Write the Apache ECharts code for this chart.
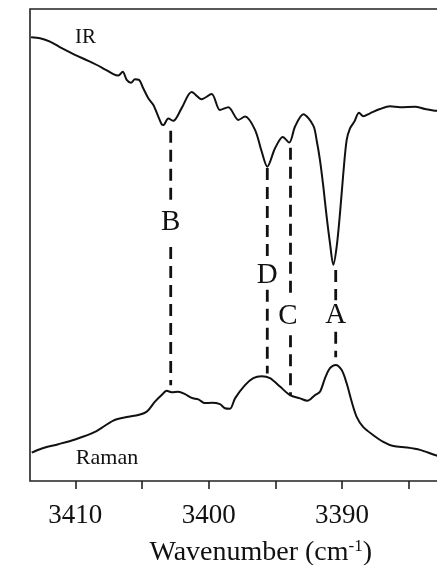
<!DOCTYPE html>
<html>
<head>
<meta charset="utf-8">
<script src="https://cdn.jsdelivr.net/npm/echarts@6/dist/echarts.min.js"></script>
<style>
html,body{margin:0;padding:0;background:#fff;}
#chart{width:437px;height:565px;}
</style>
</head>
<body>
<div id="chart"></div>
<script>
// IR spectrum (wavenumber, relative intensity)
const irWavenumber = [3413.32,3412.65,3411.90,3411.02,3410.03,3409.03,3408.02,3407.15,3406.78,3406.45,3406.15,3405.83,3405.53,3405.23,3404.91,3404.53,3404.16,3403.78,3403.53,3403.41,3403.03,3402.66,3402.03,3401.28,3400.53,3399.78,3399.16,3398.53,3397.78,3397.28,3396.53,3396.03,3395.61,3395.03,3394.45,3393.96,3393.53,3392.91,3392.16,3391.91,3391.66,3391.41,3391.16,3390.91,3390.66,3390.41,3390.16,3389.91,3389.66,3389.41,3389.09,3388.73,3388.41,3387.91,3387.16,3386.41,3385.66,3384.54,3383.79,3383.16,3382.66];
const irIntensity = [94.0,93.8,93.1,91.7,90.3,89.0,87.6,86.2,85.9,86.7,85.0,84.4,85.1,85.0,83.2,81.1,79.7,77.2,75.6,75.4,76.8,76.3,79.0,82.4,80.9,82.0,78.6,79.2,76.5,77.2,74.4,69.8,66.6,70.5,72.9,71.7,75.1,77.7,75.3,72.2,68.0,62.4,56.0,50.4,45.8,49.6,56.7,65.2,72.2,74.7,76.1,78.0,77.3,77.9,78.8,79.4,79.2,79.3,78.8,78.5,78.4];

// Raman spectrum (wavenumber, relative intensity)
const ramanWavenumber = [3413.27,3412.52,3411.28,3410.03,3408.53,3407.15,3406.03,3405.28,3404.65,3404.03,3403.53,3403.15,3402.78,3402.28,3401.78,3401.28,3400.78,3400.28,3399.78,3399.16,3398.78,3398.41,3398.03,3397.28,3396.66,3396.03,3395.41,3394.66,3393.91,3393.16,3392.61,3392.03,3391.66,3391.28,3390.91,3390.48,3390.03,3389.66,3389.28,3388.91,3388.41,3387.66,3386.91,3386.16,3385.16,3384.16,3383.04,3382.66];
const ramanIntensity = [6.0,6.9,7.8,8.8,10.4,12.8,13.6,14.0,14.7,16.8,18.2,19.1,18.8,18.9,18.4,17.6,17.3,16.5,16.6,16.3,15.4,15.3,17.5,20.3,21.8,22.2,21.8,20.0,18.2,17.5,17.0,18.2,18.9,21.8,23.9,24.6,23.5,20.7,16.8,13.6,11.4,9.7,8.3,7.4,7.1,6.6,5.5,5.2];

// Correlated bands
const peakNames = ['B','D','C','A'];
const peakWavenumbers = [3402.85,3395.61,3393.87,3390.48];
const peakIrEnd = [74.2,66.3,70.6,44.7];
const peakGapTop = [59.5,47.5,39.8,38.3];
const peakGapBottom = [49.6,40.5,30.9,31.6];
const peakRamanEnd = [20.3,22.8,18.2,26.2];
const peakLabelWavenumbers = [3402.85,3395.61,3394.06,3390.48];
const peakLabelLevels = [54.7,43.6,34.8,35.1];

// Axis ticks
const tickValues = [3385,3390,3395,3400,3405,3410];
const tickLabelValues = [3390,3400,3410];

const FONT = '"Liberation Serif", "Times New Roman", serif';
const INK = '#111';

const zip = (a, b) => a.map((v, i) => [v, b[i]]);

const series = [
  {
    name: 'IR', type: 'line', data: zip(irWavenumber, irIntensity),
    symbol: 'none', smooth: 0.3, silent: true,
    lineStyle: { color: INK, width: 2 }
  },
  {
    name: 'Raman', type: 'line', data: zip(ramanWavenumber, ramanIntensity),
    symbol: 'none', smooth: 0.3, silent: true,
    lineStyle: { color: INK, width: 2 }
  }
];

peakNames.forEach((n, i) => {
  const w = peakWavenumbers[i];
  series.push({
    name: 'band ' + n, type: 'line', symbol: 'none', silent: true,
    connectNulls: false,
    data: [[w, peakIrEnd[i]], [w, peakGapTop[i]], [w, '-'], [w, peakGapBottom[i]], [w, peakRamanEnd[i]]],
    lineStyle: { color: INK, width: 2.8, type: [12, 7], cap: 'butt' },
    z: 3
  });
});

series.push({
  name: 'labels', type: 'scatter', symbolSize: 0, silent: true,
  itemStyle: { opacity: 1, color: INK },
  data: peakNames.map((n, i) => ({ value: [peakLabelWavenumbers[i], peakLabelLevels[i]], name: n })),
  label: {
    show: true, position: 'inside', formatter: p => p.name,
    fontFamily: FONT, fontSize: 29, color: INK, opacity: 1
  },
  z: 5
});

const chart = echarts.init(document.getElementById('chart'));
chart.setOption({
  animation: false,
  backgroundColor: '#fff',
  grid: {
    left: 30, right: -38.5, top: 9, bottom: 84,
    outerBoundsMode: 'none', containLabel: false,
    show: true, borderColor: '#222', borderWidth: 1.6, backgroundColor: 'transparent'
  },
  xAxis: {
    type: 'value', inverse: true, min: 3380, max: 3413.4,
    axisLine: { show: false },
    splitLine: { show: false },
    axisTick: {
      show: true, inside: false, length: 8, customValues: tickValues,
      lineStyle: { color: '#222', width: 1.6 }
    },
    axisLabel: {
      show: true, margin: 21, customValues: tickLabelValues,
      fontFamily: FONT, fontSize: 27, color: INK,
      formatter: v => String(v)
    },
    name: '{a|Wavenumber (cm}{s|-1}{a|)}',
    nameLocation: 'middle', nameGap: 57,
    nameTextStyle: {
      padding: [0, 0, 0, 16],
      rich: {
        a: { fontFamily: FONT, fontSize: 28, color: INK, lineHeight: 30 },
        s: { fontFamily: FONT, fontSize: 17, color: INK, verticalAlign: 'top', lineHeight: 30 }
      }
    }
  },
  yAxis: {
    type: 'value', min: 0, max: 100, show: false
  },
  graphic: [
    { type: 'text', x: 85.5, y: 37, silent: true,
      style: { text: 'IR', font: '21px ' + FONT, fill: INK, align: 'center', verticalAlign: 'middle' } },
    { type: 'text', x: 107, y: 458.5, silent: true,
      style: { text: 'Raman', font: '22px ' + FONT, fill: INK, align: 'center', verticalAlign: 'middle' } }
  ],
  series: series
});
</script>
</body>
</html>
